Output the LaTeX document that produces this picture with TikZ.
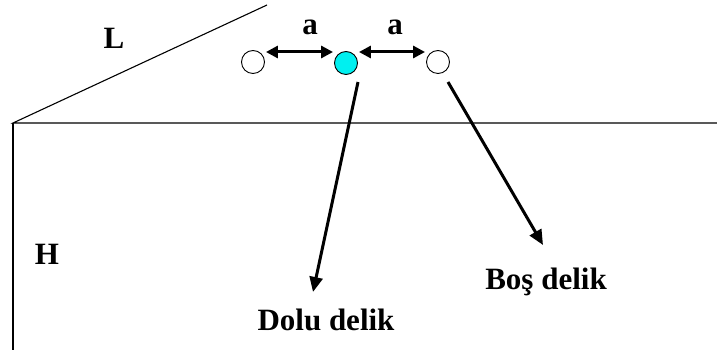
\documentclass[tikz,border=0pt]{standalone}
\usepackage{fontspec}
\setmainfont{Liberation Serif}
\usetikzlibrary{arrows.meta}
\definecolor{holecyan}{RGB}{0,240,240}
\tikzset{
  edge/.style={line width=1.1pt, black},
  hole/.style={circle, draw=black, line width=0.9pt, minimum size=23pt, inner sep=0pt},
  lbl/.style={font=\fontsize{31pt}{33pt}\selectfont\bfseries, inner sep=0pt},
  spacing/.style={line width=3pt, {Triangle[length=12pt,width=12pt]}-{Triangle[length=12pt,width=12pt]}, shorten <=1pt, shorten >=1pt},
  pointer/.style={line width=3pt, -{Triangle[length=15pt,width=13pt]}}
}
\begin{document}
\begin{tikzpicture}[x=1pt,y=-1pt]
\useasboundingbox (0,0) rectangle (717,352);

% outline of the block: slope, top face and side
\coordinate (corner) at (13,123);
\coordinate (slopeend) at (267,5);
\coordinate (topend) at (717,123);
\coordinate (sideend) at (13,350);
\draw[edge] (slopeend) -- (corner) -- (topend);
\draw[edge] (corner) -- (sideend);

\node[lbl] (L) at (114,38) {L};
\node[lbl] (H) at (47,254) {H};

% holes
\node[hole] (h1) at (253,62) {};
\node[hole, fill=holecyan] (h2) at (346,63) {};
\node[hole] (h3) at (438,62) {};

% spacing arrows
\draw[spacing] ([yshift=10pt]h1.east) -- ([yshift=11pt]h2.west);
\draw[spacing] ([yshift=11pt]h2.east) -- ([yshift=10pt]h3.west);
\node[lbl] (a1) at (310,27) {a};
\node[lbl] (a2) at (395,27) {a};

% labels and pointers
\node[lbl] (dolu) at (326,320) {Dolu delik};
\node[lbl] (bos) at (546,282) {Boş delik};
\coordinate (p2s) at (358,82);
\coordinate (p2e) at (313,292);
\coordinate (p3s) at (448,82);
\coordinate (p3e) at (543,245);
\draw[pointer] (p2s) -- (p2e);
\draw[pointer] (p3s) -- (p3e);
\end{tikzpicture}
\end{document}
